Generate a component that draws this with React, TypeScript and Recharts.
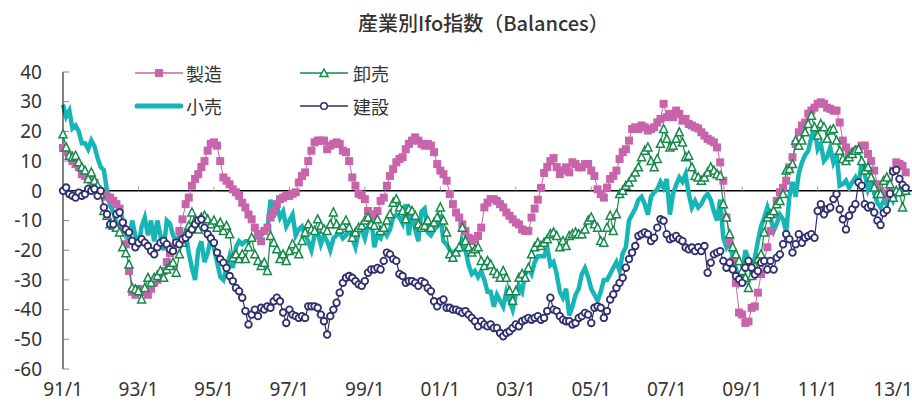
import React from "react";
import { LineChart, Line, XAxis, YAxis, ReferenceLine } from "recharts";

// monthly values, 91/1 .. 13/5
const seizo = [
  14.4, 13, 12, 10, 9, 8, 5.6, 5, 4, 3.4, 2.8, 0.5, -0.5, -1, -2, -2.3, -3.4, -4.5, -6, -11,
  -18, -27, -34, -35, -33, -34, -34, -35, -33, -31, -30, -28, -27, -24, -21, -19, -17.5, -13.5, -9.6, -4.5,
  -2.3, 1.7, 4, 5.6, 8, 10, 13.5, 15.8, 16.3, 15.2, 10, 4.5, 3.4, 2.2, 0.5, -0.5, -1.7, -4, -5.6, -8,
  -9.6, -12.4, -14.6, -17, -13.5, -12.4, -9, -6.8, -4.5, -2.8, -2.3, -1.7, -1.7, -1, -0.5, 2.8, 5, 6.2, 10, 13.5,
  16.3, 16.9, 16.9, 16.9, 14, 15.2, 15.8, 16.3, 15.8, 13.5, 13, 10, 4.5, 1.7, -1, -1.5, -2.8, -6.8, -7.9, -8.4,
  -6.8, -3.4, -2.3, 1.7, 5, 7.3, 9.6, 10.7, 11.3, 14, 15.8, 16.9, 18, 16.9, 15.8, 15.2, 15.8, 15.2, 13, 9,
  6.8, 5.6, 3.4, -1.1, -4.5, -7.3, -9, -11.3, -13.5, -15.8, -16.9, -16.3, -15.2, -12.4, -5.6, -4, -2.8, -2.8, -3.4, -4.5,
  -5.6, -7.3, -8.4, -9.6, -10.7, -11.3, -13, -13.5, -13.5, -9, -6, -3, 1, 6, 8, 10, 11, 8, 5.6, 6.8,
  7.9, 6.2, 9.6, 9, 7.9, 7.9, 9, 9, 6.8, 5, 0.5, -1.1, -2.3, 1.1, 4, 5, 6.8, 10.7, 13, 14,
  16.9, 20.8, 21.4, 20.8, 22, 21.4, 20.3, 20.8, 21.4, 23, 24.2, 29.3, 24.8, 25.9, 24.8, 27, 25.9, 23.6, 24.2, 22.5,
  22, 21.4, 21, 19.7, 18.6, 17.5, 16.9, 16.3, 14.6, 9.6, 3.4, -9, -17, -23.6, -31, -41, -41.7, -44.5, -44, -39.4,
  -38.9, -34.3, -28, -23.6, -19, -13.5, -7.9, -3.4, -0.5, 1, 3.4, 7.9, 11.3, 15.8, 19.7, 22, 23, 26, 27, 28,
  29.3, 29.8, 29.3, 28, 27.6, 27, 27, 23, 16.9, 14.6, 13, 12.4, 13.5, 14, 15.2, 15.2, 12.4, 10, 6.8, 2.2,
  0, -1.1, -1.7, -0.5, 6.8, 9.6, 9, 8.4, 6.2,
];

const oroshi = [
  19, 14.6, 11.8, 11.3, 11.8, 9.6, 7.9, 6.8, 4, 6.2, 3.4, 1.7, -1.1, -6.8, -8.4, -11.3, -11.8, -12.4, -14, -19,
  -21, -24.8, -32.7, -33.2, -33.8, -36.6, -32.7, -29.3, -31, -29.3, -28.7, -27, -29.3, -26.5, -25.3, -24.2, -27.6, -21.4, -17.5, -14.6,
  -11.8, -7.3, -10, -13, -9, -8.4, -9.6, -11.3, -10, -12.4, -10.7, -13.5, -11.8, -14.6, -22.5, -21.4, -23, -21.4, -23, -19,
  -15.8, -21.4, -23.6, -25.3, -24.2, -27, -15.2, -17.5, -19.7, -23, -21.4, -23.6, -20.3, -18, -19.7, -21.4, -16.9, -14, -11.3, -13,
  -13.5, -9.6, -11.8, -13, -13.5, -11.3, -7.3, -11.3, -13, -11.8, -10, -12.4, -15.8, -14, -12.4, -11.8, -10, -9, -11.3, -11.8,
  -9.6, -13.5, -12.4, -10, -7.9, -4, -2.8, -5.6, -6.8, -9.6, -6.2, -6.8, -8.4, -11.3, -12.4, -11.8, -10, -12.4, -10.7, -9,
  -5.6, -10, -14, -21.4, -22.5, -20.8, -19, -12.4, -16.9, -19, -20.8, -19.7, -19, -23.6, -25.3, -23.6, -24.8, -27, -28, -29.3,
  -27, -29.3, -33.8, -37, -33.8, -29.3, -28, -29.3, -26, -21.4, -19, -17.5, -18.6, -17.5, -16.3, -14.6, -14, -15.2, -19, -16.9,
  -18.6, -15.2, -14.6, -14, -14.6, -14.6, -13, -10, -9, -11.3, -12.4, -16.9, -17.5, -12.4, -8.4, -13.5, -7.9, -1.1, 0, 1.7,
  2.8, 4.5, 6.2, 7.9, 11.3, 13.5, 14.6, 10, 7.9, 10.7, 15.8, 20.8, 17.5, 14.6, 15.2, 17.5, 19.7, 16.3, 11.3, 11.8,
  7.9, 5, 4.5, 3.4, 4.5, 6.2, 7.9, 6.8, 5.6, 5, -4.5, -9, -14.6, -19, -21.4, -23.6, -27, -29.3, -32.7, -28.7,
  -25.3, -23, -21.4, -14, -9, -7.9, -6.8, -4.5, -3.4, -1.1, 6.8, 7.3, 9, 16.9, 15.2, 16.9, 19.7, 22.5, 25.3, 21.4,
  18.6, 22.5, 21.4, 17.5, 20.3, 20.8, 16.9, 13.5, 10.7, 10, 11.3, 12.4, 13.5, 14, 10, 6.8, 7.9, 4.5, 1.1, -1.1,
  -1.1, 3.4, 4.5, 2.2, -2.3, 0, -0.5, -5.6, 0,
];

const kouri = [
  29, 25, 27, 21, 22, 20, 16, 16, 14, 17, 15, 11, 8, 7, 0, -5, -7, -11, -13, -10,
  -14, -17, -10, -15, -19, -12, -9, -15, -10, -17, -10, -15, -20, -10, -11, -15, -17, -15, -15, -14,
  -21, -26, -30, -20, -17, -24, -21, -16, -19, -24, -29, -30, -26, -22, -26, -19, -17, -18, -17, -17,
  -16, -16, -15, -15, -14, -13, -3, -9, -5, -9, -7, -12, -10, -8, -15, -13, -12, -15, -17, -20,
  -15, -14, -18, -15, -17, -20, -16, -15, -14, -16, -15, -13, -16, -19, -14, -13, -16, -12, -9, -19,
  -15, -16, -13, -15, -13, -9, -8, -9, -11, -4.5, -15, -6, -13, -17, -7, -6, -14, -15, -13, -12,
  -8, -17, -18, -20, -21, -20, -20, -17, -20, -25, -28, -27, -29, -27, -30, -34, -34, -39, -35, -37,
  -39, -34, -37, -40, -35, -32, -34, -28, -26, -28, -24, -22, -22, -22, -19, -25, -24, -28, -34, -36,
  -33, -42, -39, -35, -33, -28, -26, -29, -33, -35, -37, -34, -30, -30, -28, -26, -24, -27, -21, -19,
  -10, -8, -6, -3, -2, -4.5, -8, -2, -0.5, 0.5, 3, 1, 4, -8, -1, 2, 4.5, 3, 5.6, -1,
  -5.6, -3.4, -5.6, -4.5, -2.3, -1, -3, -7, -10, -3, -16, -19, -17, -22.5, -26, -31, -29, -20, -23, -28,
  -22.5, -17, -12, -9, -5.6, -9, -13.5, -11, -8, -9.6, -14, -2, 3, -2, 6, 9.5, 12, 13.5, 18, 21.4,
  14, 15.8, 10, 11.3, 14.6, 9.6, 12.4, 1.7, 2.2, 3.4, 1, 2.8, 4.5, 1.7, 10, 5.6, 0.5, 3.4, -1, -4,
  -5.6, -3.4, -4.5, -1, -3.4, -1, 0, 0, 1,
];

const kensetsu = [
  0, 1.1, -1.1, -1.7, -2.3, -0.6, -1.7, -1.1, 0.6, 0, 0.6, -1.7, 0, -5.6, -7.9, -11.3, -11.3, -7.9, -7.3, -10.7,
  -13, -14, -16.9, -19, -17.5, -16.3, -17.5, -18.6, -20.3, -21.4, -19, -17.5, -16.9, -18, -19.7, -20.3, -17.5, -18, -16.3, -15.8,
  -14.6, -13, -11.3, -10, -9.6, -12.4, -14.6, -16, -17.5, -20.8, -23, -24.2, -26, -28.7, -30.4, -32.7, -33.8, -36, -40.5, -45,
  -41.7, -40, -42.2, -39.4, -40, -38.9, -39.4, -37.2, -36, -37.2, -41, -44.5, -40, -41.7, -42.2, -42.8, -42.2, -42.8, -38.9, -38.9,
  -38.9, -39.4, -41.7, -43.9, -48.4, -42.2, -40, -37.7, -34.3, -31, -29.3, -28.7, -29.3, -30.4, -31.5, -32, -30.4, -27.6, -26.5, -26.5,
  -26, -26.5, -23.6, -20.8, -21.4, -23, -23.6, -28, -28.7, -31, -30.4, -30.4, -31, -32, -30.4, -31, -32.7, -33.8, -37.2, -38.9,
  -37.2, -36.6, -39.4, -39.4, -40, -40, -40.5, -41.1, -40.5, -41.7, -42.8, -43.9, -45.6, -43.9, -45, -45.6, -45, -46.2, -46.2, -47.9,
  -49, -47.9, -47.3, -46.2, -45, -45.6, -43.9, -43.4, -42.8, -43.4, -42.8, -42.2, -43.4, -42.8, -40.5, -36, -40, -40.5, -42.2, -43.4,
  -43.9, -43.9, -45, -44.5, -42.8, -42.2, -41.1, -41.7, -44.5, -39.4, -38.9, -39.4, -42.8, -40.5, -36.6, -34.9, -32.7, -31, -29.3, -25.9,
  -23, -20.8, -18.6, -15.2, -14.6, -14, -14.6, -16.9, -15.8, -12.4, -9.6, -10.1, -14.6, -16.3, -15.8, -15.2, -16.3, -16.9, -19.1, -19.7,
  -19.1, -20.3, -19, -20.3, -18.6, -27.6, -24.2, -21.4, -20.8, -20.3, -23.6, -25.9, -24.2, -26.5, -28.7, -29.8, -31, -25.9, -23.6, -25.9,
  -28.2, -27, -24.2, -23.6, -26.5, -23.6, -26.5, -22.5, -21.4, -18, -14.6, -16.3, -20.8, -18, -14.6, -17.5, -15.8, -15.2, -14.6, -15.8,
  -6.8, -4.5, -7.9, -6.2, -5.6, -2.8, -1.1, -6.2, -9.6, -13, -8.4, -6.2, -4.5, 2.8, 1.7, -4.5, -5.6, -5, -7.3, -10,
  -11.5, -7.5, -6.5, -1, 6.5, 7, 4, 2, 1,
];

const xTicks = [0, 24, 48, 72, 96, 120, 144, 168, 192, 216, 240, 264];
const xLabels = ["91/1", "93/1", "95/1", "97/1", "99/1", "01/1", "03/1", "05/1", "07/1", "09/1", "11/1", "13/1"];
const yTicks = [-60, -50, -40, -30, -20, -10, 0, 10, 20, 30, 40];

const MAG = "#C864AA";
const GRN = "#16894C";
const TEAL = "#16B6B6";
const NAVY = "#2F2F6E";

const data = seizo.map((v, i) => ({
  m: i,
  seizo: v,
  oroshi: oroshi[i],
  kouri: kouri[i],
  kensetsu: kensetsu[i],
}));

const SquareDot = (props: any) => {
  const { cx, cy, index } = props;
  if (cx == null || cy == null) return null;
  return <rect key={`sq-${index}`} x={cx - 4} y={cy - 4} width={8} height={8} fill={MAG} />;
};

const TriangleDot = (props: any) => {
  const { cx, cy, index } = props;
  if (cx == null || cy == null) return null;
  return (
    <polygon
      key={`tr-${index}`}
      points={`${cx},${cy - 4.5} ${cx + 4},${cy + 3.5} ${cx - 4},${cy + 3.5}`}
      fill="#fff"
      stroke={GRN}
      strokeWidth={1.5}
    />
  );
};

const tickFont = { fontFamily: "'Noto Sans', sans-serif", fontSize: 19, fill: "#333" };
const cjk = "'Noto Sans CJK JP', sans-serif";

const LegendRow = ({ x, y, label, icon }: { x: number; y: number; label: string; icon: React.ReactNode }) => (
  <div style={{ position: "absolute", left: x, top: y - 12, height: 24, display: "flex", alignItems: "center" }}>
    <svg width={50} height={24}>{icon}</svg>
    <span style={{ fontFamily: cjk, fontSize: 18, color: "#333", marginLeft: 3 }}>{label}</span>
  </div>
);

export default function App() {
  return (
    <div style={{ position: "absolute", left: 0, top: 0, width: 912, height: 403, background: "#fff" }}>
      <div
        style={{
          position: "absolute",
          left: 358,
          top: 8,
          fontFamily: cjk,
          fontSize: 20,
          fontWeight: 500,
          color: "#333",
          whiteSpace: "nowrap",
        }}
      >
        産業別Ifo指数（Balances）
      </div>
      <LineChart width={912} height={403} data={data} margin={{ top: 72, right: 0, bottom: 4, left: 8 }}>
        <XAxis
          dataKey="m"
          type="number"
          domain={[0, 270]}
          ticks={xTicks}
          tickFormatter={(v: number) => xLabels[xTicks.indexOf(v)] ?? ""}
          axisLine={false}
          tickLine={false}
          tickMargin={8}
          height={30}
          tick={tickFont}
          interval={0}
        />
        <YAxis
          type="number"
          domain={[-60, 40]}
          ticks={yTicks}
          width={55}
          interval={0}
          axisLine={{ stroke: "#000", strokeWidth: 1 }}
          tickLine={{ stroke: "#888" }}
          tickSize={-6}
          tickMargin={27}
          tick={tickFont}
        />
        <ReferenceLine y={0} stroke="#000" strokeWidth={1.5} />
        {xTicks.slice(1).map((t) => (
          <ReferenceLine
            key={t}
            segment={[
              { x: t, y: 0 },
              { x: t, y: 1.4 },
            ]}
            stroke="#999"
          />
        ))}
        <Line dataKey="seizo" stroke={MAG} strokeWidth={1} dot={SquareDot} isAnimationActive={false} />
        <Line dataKey="kouri" stroke={TEAL} strokeWidth={4.5} dot={false} isAnimationActive={false} />
        <Line dataKey="oroshi" stroke={GRN} strokeWidth={1.2} dot={TriangleDot} isAnimationActive={false} />
        <Line
          dataKey="kensetsu"
          stroke={NAVY}
          strokeWidth={1.2}
          dot={{ r: 3.3, fill: "#fff", stroke: NAVY, strokeWidth: 1.8 }}
          isAnimationActive={false}
        />
      </LineChart>
      <LegendRow
        x={133}
        y={73}
        label="製造"
        icon={
          <g>
            <line x1={2} y1={12} x2={50} y2={12} stroke={MAG} strokeWidth={1.5} />
            <rect x={22} y={8} width={8} height={8} fill={MAG} />
          </g>
        }
      />
      <LegendRow
        x={300}
        y={73}
        label="卸売"
        icon={
          <g>
            <line x1={0} y1={12} x2={48} y2={12} stroke={GRN} strokeWidth={1.5} />
            <polygon points="24,8 28,15.5 20,15.5" fill="#fff" stroke={GRN} strokeWidth={1.5} />
          </g>
        }
      />
      <LegendRow
        x={133}
        y={106}
        label="小売"
        icon={<line x1={4} y1={12} x2={48} y2={12} stroke={TEAL} strokeWidth={5} strokeLinecap="round" />}
      />
      <LegendRow
        x={300}
        y={106}
        label="建設"
        icon={
          <g>
            <line x1={0} y1={12} x2={48} y2={12} stroke={NAVY} strokeWidth={1.5} />
            <circle cx={24} cy={12} r={3.3} fill="#fff" stroke={NAVY} strokeWidth={1.5} />
          </g>
        }
      />
    </div>
  );
}
